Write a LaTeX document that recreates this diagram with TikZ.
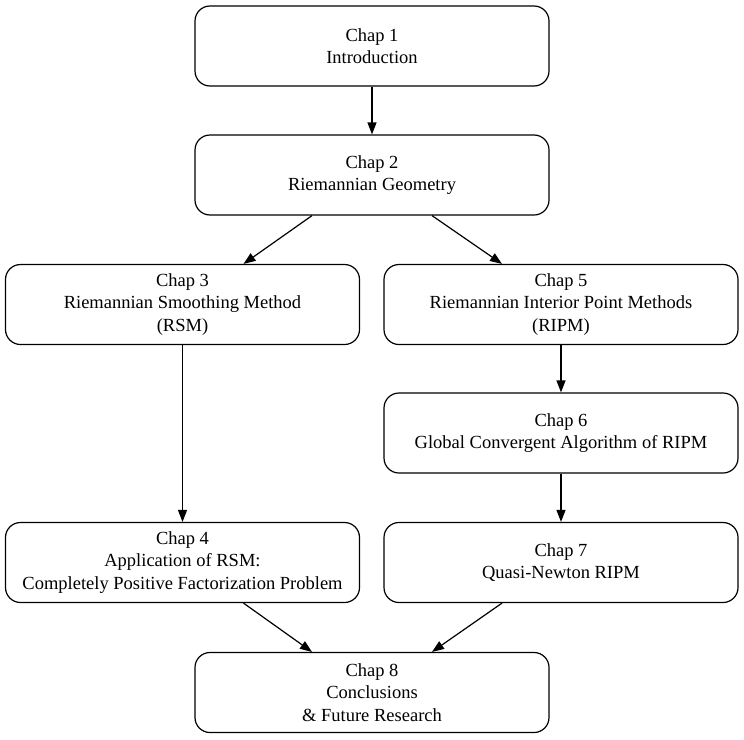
\documentclass[tikz,border=0pt]{standalone}
\usepackage{fontspec}
\setmainfont{Liberation Serif}
\usetikzlibrary{arrows.meta}
\begin{document}
\begin{tikzpicture}[x=1pt,y=-1pt,
  chapbox/.style={draw, line width=1.2pt, rounded corners=15pt, minimum width=354pt, minimum height=80pt, align=center, inner sep=0pt, font=\fontsize{18.5}{22.5}\selectfont},
  conn/.style={line width=1.2pt, -{Triangle[length=12pt,width=9pt]}}]
\useasboundingbox (0,0) rectangle (744,739);
\node[chapbox] (c1) at (372,46) {Chap 1\\Introduction};
\node[chapbox] (c2) at (372,175) {Chap 2\\Riemannian Geometry};
\node[chapbox] (c3) at (182.5,304.5) {Chap 3\\Riemannian Smoothing Method\\(RSM)};
\node[chapbox] (c5) at (561,304.5) {Chap 5\\Riemannian Interior Point Methods\\(RIPM)};
\node[chapbox] (c6) at (561,433) {Chap 6\\Global Convergent Algorithm of RIPM};
\node[chapbox] (c4) at (182.5,562.5) {Chap 4\\Application of RSM:\\Completely Positive Factorization Problem};
\node[chapbox] (c7) at (561,562.5) {Chap 7\\Quasi-Newton RIPM};
\node[chapbox] (c8) at (372,692.5) {Chap 8\\Conclusions\\\& Future Research};
\draw[conn] (c1) -- (c2);
\draw[conn] ([xshift=-60pt]c2.south) -- ([xshift=61pt]c3.north);
\draw[conn] ([xshift=60pt]c2.south) -- ([xshift=-59pt]c5.north);
\draw[conn] (c3) -- (c4);
\draw[conn] (c5) -- (c6);
\draw[conn] (c6) -- (c7);
\draw[conn] ([xshift=61pt]c4.south) -- ([xshift=-60pt]c8.north);
\draw[conn] ([xshift=-59pt]c7.south) -- ([xshift=60pt]c8.north);
\end{tikzpicture}
\end{document}
